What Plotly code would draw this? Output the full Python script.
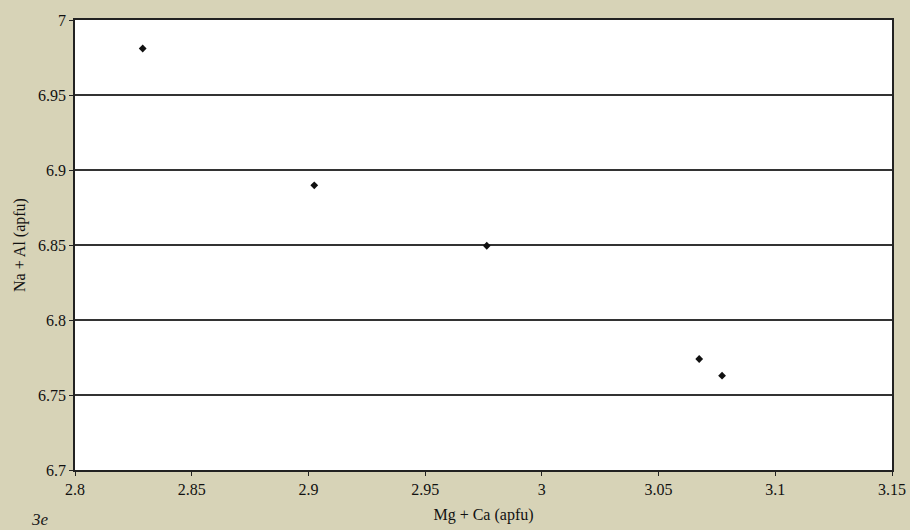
import plotly.graph_objects as go

mg_ca = [2.829, 2.9025, 2.9764, 3.0674, 3.0772]
na_al = [6.981, 6.8898, 6.8495, 6.774, 6.7629]

x_ticks = [2.8, 2.85, 2.9, 2.95, 3.0, 3.05, 3.1, 3.15]
x_labels = ["2.8", "2.85", "2.9", "2.95", "3", "3.05", "3.1", "3.15"]
y_ticks = [6.7, 6.75, 6.8, 6.85, 6.9, 6.95, 7.0]
y_labels = ["6.7", "6.75", "6.8", "6.85", "6.9", "6.95", "7"]

font_family = "Liberation Serif, DejaVu Serif, serif"
tick_font = dict(family=font_family, size=16, color="#111111")

fig = go.Figure()
fig.add_trace(go.Scatter(
    x=mg_ca, y=na_al, mode="markers",
    marker=dict(symbol="diamond", size=6, color="#111111"),
    showlegend=False, hoverinfo="x+y",
))

fig.update_layout(
    width=910, height=530,
    margin=dict(l=75, r=18, t=20, b=60, autoexpand=False),
    paper_bgcolor="#d7d3b7",
    plot_bgcolor="#ffffff",
    font=dict(family=font_family, size=16, color="#111111"),
    xaxis=dict(
        range=[2.8, 3.15], tickvals=x_ticks, ticktext=x_labels,
        tickfont=tick_font,
        showgrid=False, zeroline=False,
        showline=True, linecolor="#222222", linewidth=1.5, mirror=True,
        ticks="outside", ticklen=4, tickcolor="#222222",
        title=dict(text="Mg + Ca (apfu)", font=dict(family=font_family, size=16), standoff=12),
    ),
    yaxis=dict(
        range=[6.7, 7.0], tickvals=y_ticks, ticktext=y_labels,
        tickfont=tick_font,
        showgrid=True, gridcolor="#333333", gridwidth=1.5, zeroline=False,
        showline=True, linecolor="#222222", linewidth=1.5, mirror=True,
        ticks="outside", ticklen=4, tickcolor="#222222",
        title=dict(text="Na + Al (apfu)", font=dict(family=font_family, size=16), standoff=8),
    ),
)

fig.add_annotation(
    text="<i>3e</i>", xref="paper", yref="paper", x=-0.056, y=-0.11,
    xanchor="left", yanchor="middle", showarrow=False,
    font=dict(size=17, family=font_family, color="#1a1a1a"),
)

fig.write_html("out.html", config={"displayModeBar": False},
               post_script="document.body.style.margin='0';")
